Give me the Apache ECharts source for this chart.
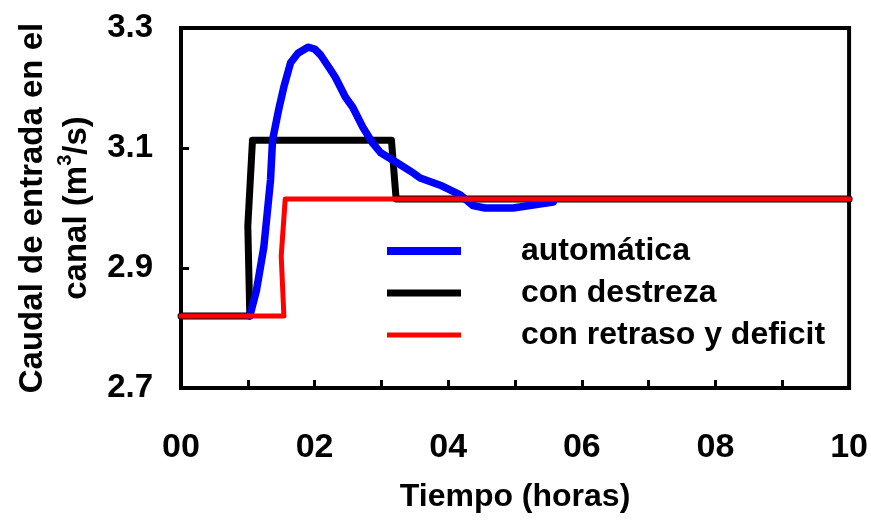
<!DOCTYPE html>
<html>
<head>
<meta charset="utf-8">
<script src="https://cdn.jsdelivr.net/npm/echarts@6/dist/echarts.min.js"></script>
<style>
html,body{margin:0;padding:0;background:#fff;}
#chart{width:871px;height:520px;}
</style>
</head>
<body>
<div id="chart"></div>
<script>
// Data (hours, m3/s)
const seriesNames = ['automática', 'con destreza', 'con retraso y deficit'];
const xTicks = [0, 2, 4, 6, 8, 10];
const yTicks = [2.7, 2.9, 3.1, 3.3];

const automatica = [
  [1.03, 2.82], [1.13, 2.863], [1.24, 2.935], [1.30, 3.002], [1.34, 3.047],
  [1.37, 3.113], [1.46, 3.163], [1.54, 3.202], [1.64, 3.242], [1.75, 3.258],
  [1.90, 3.268], [2.00, 3.265], [2.09, 3.255], [2.21, 3.235], [2.31, 3.218],
  [2.46, 3.185], [2.57, 3.168], [2.72, 3.135], [2.87, 3.108], [2.99, 3.092],
  [3.24, 3.075], [3.48, 3.058], [3.58, 3.05], [3.88, 3.038], [4.18, 3.022],
  [4.37, 3.004], [4.55, 3.0], [4.73, 3.0], [4.97, 3.0], [5.27, 3.005], [5.57, 3.01]
];
const conDestreza = [
  [0, 2.82], [1.03, 2.82], [1.0, 2.97], [1.07, 3.113], [3.15, 3.113],
  [3.22, 3.015], [10, 3.015]
];
const conRetraso = [
  [0, 2.82], [1.54, 2.82], [1.5, 2.92], [1.56, 3.015], [10, 3.015]
];

const FONT = '"Liberation Sans", Arial, sans-serif';
const chart = echarts.init(document.getElementById('chart'));

function legendFor(name, top, h) {
  return {
    data: [name], left: 387, top: top, icon: 'rect', padding: 0,
    itemWidth: 74, itemHeight: h,
    textStyle: { fontFamily: FONT, fontWeight: 'bold', fontSize: 32, color: '#000',
                 padding: [0, 0, 0, 55], lineHeight: 36 },
    selectedMode: false
  };
}

chart.setOption({
  animation: false,
  backgroundColor: '#fff',
  grid: { left: 181, right: 21, top: 28, bottom: 132, show: true,
          borderColor: '#000', borderWidth: 4, backgroundColor: 'transparent' },
  legend: [
    legendFor(seriesNames[0], 233, 8),
    legendFor(seriesNames[1], 275, 7),
    legendFor(seriesNames[2], 317, 5)
  ],
  xAxis: {
    type: 'value', min: 0, max: 10, interval: 1,
    name: 'Tiempo (horas)', nameLocation: 'middle', nameGap: 93,
    nameTextStyle: { fontFamily: FONT, fontWeight: 'bold', fontSize: 32, color: '#000' },
    axisLine: { show: true, lineStyle: { color: '#000', width: 4 } },
    axisTick: { show: true, inside: true, length: 8, lineStyle: { color: '#000', width: 3 } },
    splitLine: { show: false },
    axisLabel: {
      margin: 43, fontFamily: FONT, fontWeight: 'bold', fontSize: 34, color: '#000',
      formatter: v => xTicks.includes(Math.round(v)) ? String(Math.round(v)).padStart(2, '0') : ''
    }
  },
  yAxis: {
    type: 'value', min: 2.7, max: 3.3, interval: 0.2,
    name: '{t|Caudal de entrada en el}\n{t|canal (m}{s|3}{t|/s)}',
    nameLocation: 'middle', nameRotate: 90, nameGap: 82,
    nameTextStyle: {
      fontFamily: FONT, fontWeight: 'bold', fontSize: 33, color: '#000',
      rich: {
        t: { fontFamily: FONT, fontWeight: 'bold', fontSize: 33, color: '#000', lineHeight: 44 },
        s: { fontFamily: FONT, fontWeight: 'bold', fontSize: 20, color: '#000', lineHeight: 44, verticalAlign: 'top', padding: [0, 0, 14, 0] }
      }
    },
    axisLine: { show: true, lineStyle: { color: '#000', width: 4 } },
    axisTick: { show: true, inside: true, length: 8, lineStyle: { color: '#000', width: 3 } },
    splitLine: { show: false },
    axisLabel: {
      margin: 28, fontFamily: FONT, fontWeight: 'bold', fontSize: 33, color: '#000',
      formatter: v => v.toFixed(1)
    }
  },
  series: [
    { name: seriesNames[0], type: 'line', data: automatica, symbol: 'none', z: 3,
      color: '#0000ff', lineStyle: { color: '#0000ff', width: 7.5, cap: 'round', join: 'round' } },
    { name: seriesNames[1], type: 'line', data: conDestreza, symbol: 'none', z: 2,
      color: '#000000', lineStyle: { color: '#000000', width: 7, cap: 'round', join: 'round' } },
    { name: seriesNames[2], type: 'line', data: conRetraso, symbol: 'none', z: 4,
      color: '#ff0000', lineStyle: { color: '#ff0000', width: 5, cap: 'round', join: 'round' } }
  ]
});
</script>
</body>
</html>
